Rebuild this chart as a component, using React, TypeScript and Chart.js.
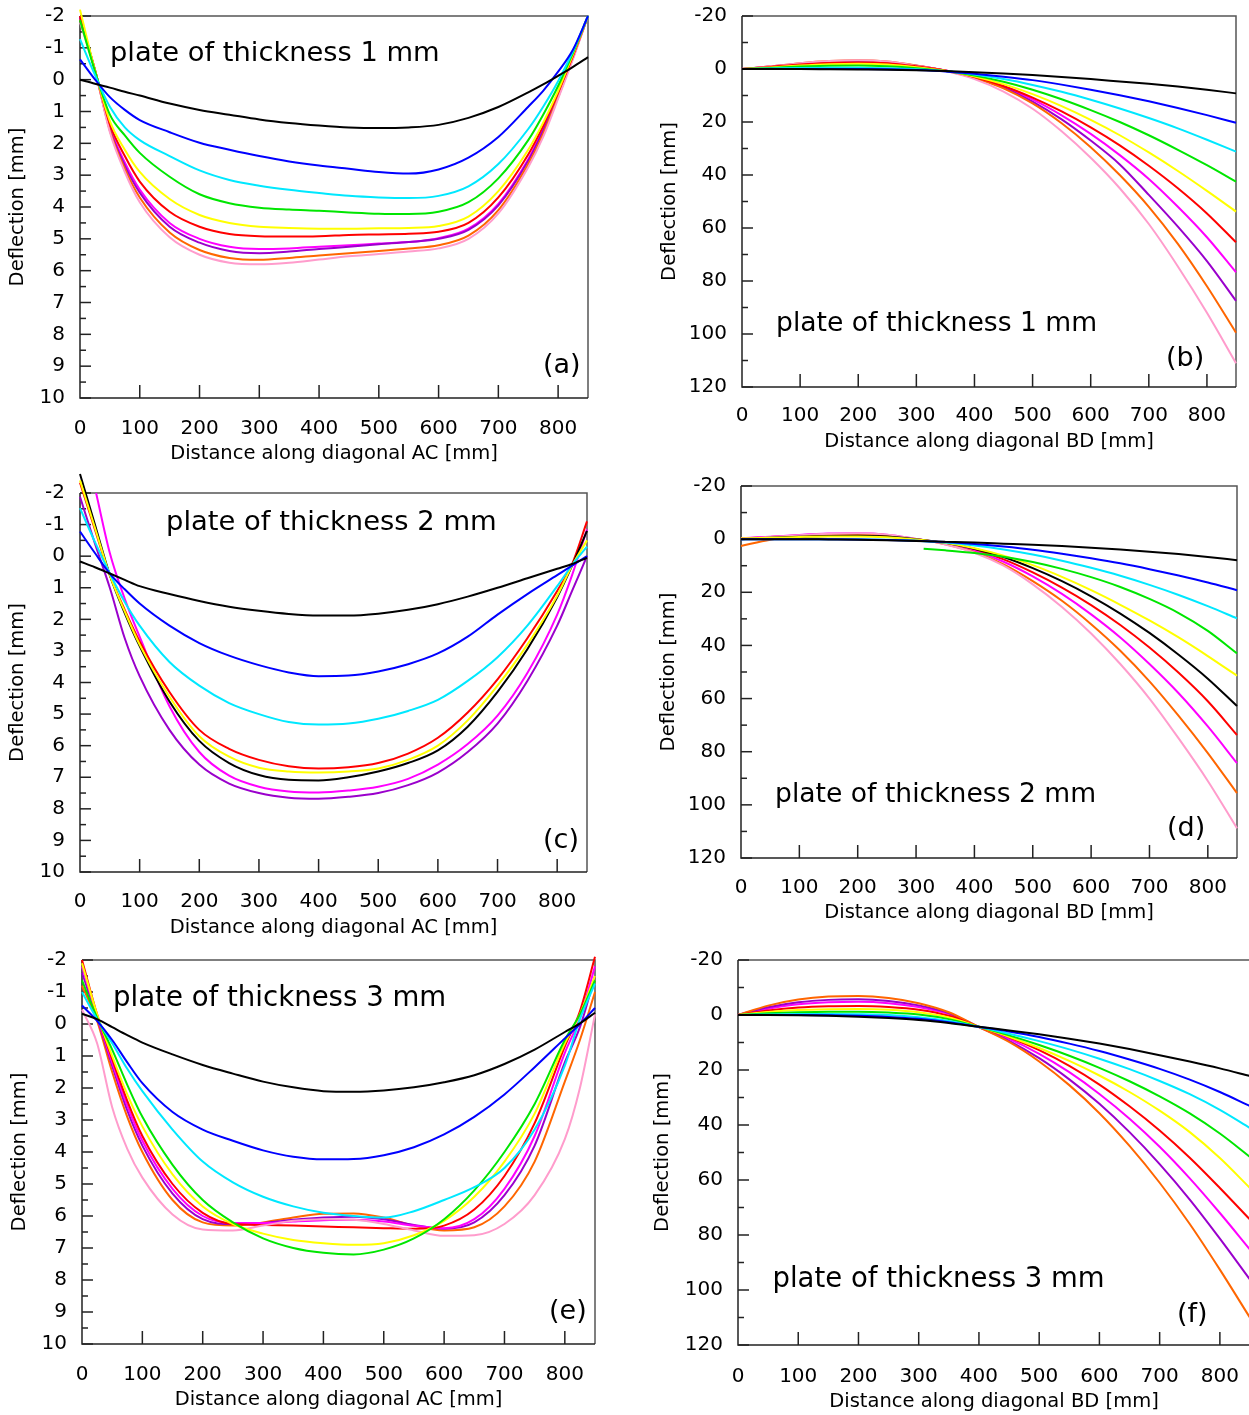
import React, { useEffect, useRef } from "react";
import { Chart, registerables } from "chart.js";
Chart.register(...registerables);

const FONT = "'DejaVu Sans', 'Liberation Sans', sans-serif";
const COL = {
  black: "#000000", blue: "#0000ff", cyan: "#00e8ff", green: "#00e600", yellow: "#ffff00",
  red: "#ff0000", magenta: "#ff00ff", purple: "#9a00cc", orange: "#ff6600", pink: "#ff9ccc",
};

// ---------- tick labels ----------
const xTickValues = [0, 100, 200, 300, 400, 500, 600, 700, 800];
const yTicksSmall = [-2, -1, 0, 1, 2, 3, 4, 5, 6, 7, 8, 9, 10];
const yTicksLarge = [-20, 0, 20, 40, 60, 80, 100, 120];

// ---------- panel (a): plate 1 mm, diagonal AC ----------
const aX = [0, 25, 50, 75, 100, 150, 200, 250, 300, 350, 400, 450, 500, 550, 600, 650, 700, 750, 775, 800, 825, 850];
const aBlack = [0, 0.13, 0.25, 0.38, 0.5, 0.75, 0.95, 1.1, 1.25, 1.36, 1.44, 1.5, 1.52, 1.5, 1.42, 1.2, 0.86, 0.4, 0.15, -0.12, -0.4, -0.71];
const aBlue = [-0.64, -0.01, 0.55, 0.95, 1.27, 1.65, 1.98, 2.2, 2.4, 2.57, 2.7, 2.8, 2.9, 2.95, 2.82, 2.45, 1.8, 0.85, 0.35, -0.25, -0.95, -2.0];
const aCyan = [-1.27, -0.15, 0.85, 1.5, 1.9, 2.4, 2.85, 3.15, 3.33, 3.46, 3.56, 3.65, 3.7, 3.72, 3.65, 3.35, 2.65, 1.55, 0.85, 0.05, -0.9, -2.0];
const aGreen = [-1.87, -0.27, 1.1, 1.75, 2.3, 3.05, 3.6, 3.88, 4.02, 4.08, 4.12, 4.17, 4.21, 4.22, 4.15, 3.85, 3.1, 1.9, 1.1, 0.2, -0.85, -2.0];
const aYellow = [-2.2, -0.3, 1.3, 2.2, 2.9, 3.75, 4.25, 4.5, 4.62, 4.66, 4.68, 4.68, 4.67, 4.66, 4.6, 4.3, 3.5, 2.2, 1.35, 0.35, -0.8, -2.0];
const aRed = [-2.0, -0.3, 1.4, 2.4, 3.2, 4.15, 4.62, 4.85, 4.92, 4.93, 4.92, 4.88, 4.86, 4.84, 4.78, 4.5, 3.7, 2.35, 1.45, 0.4, -0.75, -2.0];
const aMagenta = [-1.95, -0.3, 1.5, 2.6, 3.45, 4.5, 5.0, 5.25, 5.32, 5.3, 5.25, 5.2, 5.15, 5.1, 4.98, 4.68, 3.9, 2.5, 1.55, 0.45, -0.75, -2.0];
const aPurple = [-1.95, -0.3, 1.55, 2.7, 3.55, 4.62, 5.12, 5.38, 5.45, 5.4, 5.32, 5.25, 5.17, 5.1, 5.0, 4.72, 3.95, 2.55, 1.6, 0.5, -0.7, -2.0];
const aOrange = [-1.9, -0.3, 1.6, 2.8, 3.7, 4.8, 5.35, 5.6, 5.66, 5.6, 5.52, 5.45, 5.38, 5.3, 5.2, 4.9, 4.1, 2.65, 1.7, 0.55, -0.7, -2.0];
const aPink = [-1.8, -0.3, 1.65, 2.9, 3.85, 4.95, 5.5, 5.75, 5.8, 5.75, 5.65, 5.55, 5.48, 5.4, 5.3, 5.0, 4.2, 2.75, 1.8, 0.6, -0.65, -2.0];

// ---------- panel (b): plate 1 mm, diagonal BD ----------
const bX = [0, 50, 100, 150, 200, 250, 300, 350, 400, 450, 500, 550, 600, 650, 700, 750, 800, 850];
const bBlack = [0, 0, 0, 0.1, 0.2, 0.3, 0.5, 0.8, 1.2, 1.7, 2.3, 3.0, 3.8, 4.7, 5.6, 6.6, 7.8, 9.2];
const bBlue = [0, 0, 0, 0, 0, 0.1, 0.4, 0.9, 1.8, 2.9, 4.2, 5.9, 7.8, 9.9, 12.2, 14.7, 17.4, 20.3];
const bCyan = [0, -0.2, -0.4, -0.5, -0.5, -0.3, 0.1, 0.8, 2.1, 3.8, 6.0, 8.6, 11.6, 14.9, 18.5, 22.4, 26.7, 31.2];
const bGreen = [0, -0.4, -0.9, -1.2, -1.3, -1.0, -0.3, 0.8, 2.5, 4.8, 7.8, 11.4, 15.5, 20.0, 25.0, 30.5, 36.3, 42.5];
const bYellow = [0, -0.6, -1.3, -1.8, -2.0, -1.7, -0.7, 0.7, 2.8, 5.7, 9.5, 14.0, 19.2, 25.0, 31.5, 38.5, 46.0, 53.8];
const bRed = [0, -0.8, -1.7, -2.3, -2.5, -2.2, -1.0, 0.6, 3.0, 6.4, 10.8, 16.0, 22.0, 28.8, 36.5, 45.0, 54.5, 65.4];
const bMagenta = [0, -1.0, -2.0, -2.7, -3.0, -2.6, -1.2, 0.6, 3.1, 6.7, 11.5, 17.5, 24.5, 32.5, 41.5, 52.0, 63.5, 76.7];
const bPurple = [0, -0.9, -1.9, -2.6, -2.9, -2.5, -1.2, 0.6, 3.2, 7.0, 12.3, 19.0, 27.0, 36.0, 47.5, 59.5, 72.5, 87.5];
const bOrange = [0, -1.0, -2.2, -3.0, -3.3, -2.8, -1.3, 0.7, 3.4, 7.3, 13.0, 20.5, 29.5, 40.0, 52.0, 66.0, 82.0, 99.5];
const bPink = [0, -1.0, -2.2, -3.0, -3.3, -2.8, -1.2, 0.8, 3.8, 8.5, 15.0, 23.5, 33.5, 45.0, 58.5, 74.5, 92.0, 111.0];

// ---------- panel (c): plate 2 mm, diagonal AC ----------
const cX = [0, 25, 50, 75, 100, 150, 200, 250, 300, 350, 400, 450, 500, 550, 600, 650, 700, 750, 800, 825, 850];
const cBlack1 = [0.17, 0.35, 0.55, 0.75, 0.95, 1.2, 1.42, 1.6, 1.73, 1.83, 1.88, 1.88, 1.82, 1.7, 1.52, 1.28, 1.0, 0.7, 0.4, 0.25, 0.05];
const cBlue = [-0.78, -0.1, 0.55, 1.05, 1.5, 2.2, 2.75, 3.15, 3.45, 3.68, 3.8, 3.78, 3.65, 3.42, 3.08, 2.55, 1.85, 1.2, 0.6, 0.3, 0.0];
const cCyan = [-1.52, -0.45, 0.55, 1.45, 2.2, 3.35, 4.1, 4.65, 5.0, 5.25, 5.33, 5.3, 5.15, 4.9, 4.55, 3.95, 3.2, 2.2, 0.95, 0.28, -0.3];
const cRed = [-2.33, -0.85, 0.6, 1.7, 2.7, 4.3, 5.5, 6.1, 6.45, 6.65, 6.72, 6.68, 6.55, 6.25, 5.75, 4.95, 3.9, 2.6, 1.1, 0.25, -1.1];
const cYellow = [-2.4, -0.9, 0.6, 1.75, 2.8, 4.45, 5.7, 6.35, 6.7, 6.82, 6.85, 6.82, 6.72, 6.45, 6.0, 5.2, 4.1, 2.8, 1.25, 0.3, -0.5];
const cBlack2 = [-2.6, -1.0, 0.6, 1.8, 2.85, 4.6, 5.85, 6.55, 6.93, 7.08, 7.1, 7.0, 6.82, 6.55, 6.15, 5.4, 4.3, 2.95, 1.3, 0.3, -0.8];
const cMagentaX = [27, 50, 75, 100, 150, 200, 250, 300, 350, 400, 450, 500, 550, 600, 650, 700, 750, 800, 825, 850];
const cMagenta = [-2.0, -0.1, 1.35, 2.55, 4.75, 6.2, 6.95, 7.3, 7.45, 7.48, 7.42, 7.3, 7.05, 6.6, 5.95, 5.05, 3.7, 1.85, 0.6, -0.85];
const cPurple = [-1.88, -0.4, 1.0, 2.6, 3.8, 5.5, 6.6, 7.2, 7.5, 7.65, 7.68, 7.62, 7.5, 7.25, 6.85, 6.2, 5.3, 3.95, 2.2, 1.1, 0.0];

// ---------- panel (d): plate 2 mm, diagonal BD ----------
const dX = [0, 50, 100, 150, 200, 250, 300, 350, 400, 450, 500, 550, 600, 650, 700, 750, 800, 850];
const dBlack1 = [0, 0, 0, 0.1, 0.2, 0.4, 0.7, 1.0, 1.3, 1.7, 2.1, 2.6, 3.2, 3.9, 4.7, 5.6, 6.7, 7.9];
const dBlue = [0, 0, 0, 0, 0.1, 0.3, 0.6, 1.1, 1.8, 2.8, 4.0, 5.5, 7.2, 9.1, 11.3, 13.7, 16.3, 19.2];
const dCyan = [0, 0, 0, 0, 0, 0.2, 0.6, 1.3, 2.4, 3.9, 5.8, 8.1, 10.8, 13.8, 17.2, 21.0, 25.2, 29.8];
const dGreenX = [313, 350, 400, 450, 500, 550, 600, 650, 700, 750, 800, 850];
const dGreen = [3.6, 4.2, 5.2, 6.6, 8.6, 11.2, 14.3, 18.0, 22.5, 27.8, 34.5, 43.0];
const dYellow = [-0.3, -0.5, -0.8, -1.0, -1.0, -0.7, 0.1, 1.4, 3.4, 6.2, 9.8, 14.2, 19.2, 24.7, 30.6, 37.0, 44.0, 51.4];
const dBlack2 = [0, -0.5, -0.9, -1.2, -1.3, -1.0, 0.0, 1.4, 3.6, 6.7, 10.9, 15.8, 21.5, 28.0, 35.3, 43.5, 52.5, 62.8];
const dRed = [-0.3, -0.8, -1.4, -1.8, -1.9, -1.4, 0.0, 1.6, 4.0, 7.6, 12.5, 18.2, 24.8, 32.3, 40.8, 50.3, 61.0, 73.7];
const dMagenta = [-0.3, -0.9, -1.6, -2.1, -2.2, -1.7, -0.1, 1.7, 4.4, 8.5, 14.0, 20.6, 28.3, 37.0, 47.0, 58.0, 70.5, 84.3];
const dOrange = [2.6, 0.2, -0.9, -1.7, -1.9, -1.5, 0.0, 1.9, 4.9, 9.5, 15.8, 23.2, 32.0, 42.0, 53.5, 66.5, 80.5, 95.6];
const dPink = [0, -0.8, -1.5, -2.0, -2.2, -1.7, -0.1, 2.0, 5.1, 10.0, 17.0, 25.5, 35.5, 47.0, 60.0, 75.0, 91.0, 108.8];

// ---------- panel (e): plate 3 mm, diagonal AC ----------
const eX = [0, 25, 50, 75, 100, 150, 200, 250, 300, 350, 400, 450, 500, 550, 600, 650, 700, 750, 800, 825, 850];
const eBlack = [-0.32, -0.15, 0.1, 0.35, 0.58, 0.95, 1.28, 1.55, 1.8, 1.98, 2.1, 2.12, 2.08, 1.98, 1.82, 1.6, 1.25, 0.8, 0.25, -0.02, -0.35];
const eBlue = [-0.58, -0.1, 0.5, 1.2, 1.85, 2.75, 3.3, 3.65, 3.95, 4.15, 4.23, 4.22, 4.1, 3.85, 3.45, 2.9, 2.2, 1.35, 0.45, 0.0, -0.5];
const eCyan = [-1.0, -0.15, 0.6, 1.4, 2.1, 3.3, 4.3, 4.95, 5.4, 5.7, 5.9, 6.0, 6.05, 5.85, 5.5, 5.1, 4.5, 3.3, 1.3, -0.15, -1.26];
const eGreen = [-1.36, -0.2, 0.8, 1.9, 2.9, 4.4, 5.5, 6.2, 6.7, 7.0, 7.15, 7.2, 7.05, 6.7, 6.1, 5.2, 4.0, 2.5, 0.5, -0.3, -1.36];
const eYellow = [-1.9, -0.3, 1.0, 2.2, 3.2, 4.7, 5.7, 6.25, 6.55, 6.75, 6.85, 6.9, 6.85, 6.6, 6.15, 5.4, 4.3, 2.8, 0.6, -0.3, -1.5];
const eRed = [-2.0, -0.3, 1.1, 2.4, 3.5, 5.0, 5.9, 6.25, 6.28, 6.3, 6.33, 6.35, 6.38, 6.4, 6.3, 5.8, 4.75, 3.1, 0.7, -0.4, -2.1];
const eMagenta = [-1.8, -0.25, 1.2, 2.55, 3.65, 5.15, 6.0, 6.22, 6.22, 6.17, 6.13, 6.12, 6.17, 6.3, 6.38, 6.1, 5.15, 3.5, 0.9, -0.2, -1.8];
const ePurple = [-1.6, -0.2, 1.3, 2.7, 3.8, 5.3, 6.1, 6.25, 6.22, 6.12, 6.05, 6.02, 6.1, 6.28, 6.4, 6.2, 5.35, 3.8, 1.2, 0.1, -1.5];
const eOrange = [-1.2, -0.1, 1.5, 2.9, 4.0, 5.5, 6.2, 6.3, 6.2, 6.05, 5.93, 5.92, 6.05, 6.3, 6.45, 6.35, 5.7, 4.3, 1.8, 0.5, -1.0];
const ePink = [-0.45, 0.6, 2.6, 3.9, 4.8, 5.95, 6.42, 6.45, 6.3, 6.15, 6.1, 6.12, 6.25, 6.45, 6.62, 6.6, 6.25, 5.35, 3.6, 2.0, -0.3];

// ---------- panel (f): plate 3 mm, diagonal BD ----------
const fX = [0, 50, 100, 150, 200, 250, 300, 350, 400, 450, 500, 550, 600, 650, 700, 750, 800, 850];
const fBlack = [0, 0, 0.1, 0.3, 0.6, 1.1, 1.8, 2.9, 4.3, 5.6, 7.0, 8.6, 10.4, 12.4, 14.6, 16.9, 19.4, 22.2];
const fBlue = [0, 0, 0, 0.1, 0.3, 0.7, 1.4, 2.6, 4.3, 6.0, 8.0, 10.4, 13.1, 16.2, 19.6, 23.5, 28.0, 33.1];
const fCyan = [0, -0.2, -0.35, -0.4, -0.3, 0, 0.8, 2.2, 4.4, 6.8, 9.5, 12.5, 15.9, 19.7, 24.0, 28.8, 34.5, 41.1];
const fGreen = [0, -0.6, -1.0, -1.2, -1.2, -0.9, -0.2, 1.5, 4.3, 7.4, 10.9, 14.8, 19.2, 24.1, 29.6, 35.8, 43.1, 51.6];
const fYellow = [0, -1.1, -1.8, -2.1, -2.2, -1.9, -1.0, 0.9, 4.3, 7.9, 12.0, 16.7, 22.0, 28.0, 34.8, 42.6, 52.0, 62.9];
const fRed = [0, -1.6, -2.7, -3.2, -3.3, -2.9, -1.9, 0.3, 4.3, 8.1, 12.8, 18.5, 25.3, 33.2, 42.0, 51.9, 62.9, 74.4];
const fMagenta = [0, -2.3, -3.9, -4.6, -4.8, -4.3, -2.9, -0.4, 4.4, 8.7, 14.1, 20.8, 28.7, 37.7, 47.9, 59.4, 72.0, 85.3];
const fPurple = [0, -2.8, -4.6, -5.5, -5.7, -5.1, -3.5, -0.7, 4.4, 9.4, 15.7, 23.4, 32.3, 42.6, 54.2, 67.1, 81.3, 96.2];
const fOrange = [0, -3.4, -5.6, -6.7, -6.9, -6.2, -4.3, -1.0, 4.4, 9.8, 16.9, 25.5, 35.7, 47.6, 61.0, 76.0, 92.6, 110.1];

type S = [number[], number[], string];

const framePlugin = {
  id: "frame",
  beforeDatasetsDraw(chart: any) {
    const o = chart.options.plugins.frame;
    if (!o) return;
    const { ctx, chartArea: a, scales } = chart;
    ctx.save();
    ctx.lineWidth = 1.5;
    ctx.strokeStyle = "#555";
    ctx.beginPath();
    ctx.moveTo(a.left, a.top);
    ctx.lineTo(a.right, a.top);
    ctx.lineTo(a.right, a.bottom);
    ctx.stroke();
    ctx.strokeStyle = "#222";
    ctx.beginPath();
    ctx.moveTo(a.left, a.top);
    ctx.lineTo(a.left, a.bottom);
    ctx.lineTo(a.right, a.bottom);
    ctx.stroke();
    const ys = scales.y;
    const n = Math.round((o.yMax - o.yMin) / o.yMinor);
    for (let i = 0; i <= n; i++) {
      const v = o.yMin + i * o.yMinor;
      const r = v / o.yMajor;
      const major = Math.abs(r - Math.round(r)) < 1e-6;
      const py = ys.getPixelForValue(v);
      ctx.beginPath();
      ctx.moveTo(a.left, py);
      ctx.lineTo(a.left + (major ? 11 : 6), py);
      ctx.stroke();
    }
    const xs = scales.x;
    for (const v of xTickValues) {
      if (v === 0) continue;
      const px = xs.getPixelForValue(v);
      ctx.beginPath();
      ctx.moveTo(px, a.bottom);
      ctx.lineTo(px, a.bottom - 13);
      ctx.stroke();
    }
    ctx.restore();
  },
};

type PanelCfg = {
  plot: { l: number; t: number; r: number; b: number };
  yW: number; pT: number; pR: number; xH: number;
  yMin: number; yMax: number; yTicks: number[]; yMajor: number; yMinor: number;
  xTitle: string; xLabelPad: number; xTitlePad: number; yTitlePad: number; yLabelPad: number;
  series: S[];
  plate: { text: string; left: number; top: number; size: number };
  tag: { text: string; left: number; top: number };
};

const AC = "Distance along diagonal AC [mm]";
const BD = "Distance along diagonal BD [mm]";

const panels: PanelCfg[] = [
  {
    plot: { l: 80, t: 16, r: 588, b: 398 }, yW: 80, pT: 12, pR: 10, xH: 70,
    yMin: -2, yMax: 10, yTicks: yTicksSmall, yMajor: 1, yMinor: 0.5,
    xTitle: AC, xLabelPad: 19, xTitlePad: 2, yTitlePad: 6, yLabelPad: 15,
    series: [[aX, aBlack, COL.black], [aX, aBlue, COL.blue], [aX, aCyan, COL.cyan], [aX, aGreen, COL.green], [aX, aYellow, COL.yellow], [aX, aRed, COL.red], [aX, aPink, COL.pink], [aX, aOrange, COL.orange], [aX, aPurple, COL.purple], [aX, aMagenta, COL.magenta]],
    plate: { text: "plate of thickness 1 mm", left: 110, top: 38, size: 27.3 },
    tag: { text: "(a)", left: 543, top: 350 },
  },
  {
    plot: { l: 742, t: 16, r: 1236, b: 387 }, yW: 90, pT: 12, pR: 10, xH: 70,
    yMin: -20, yMax: 120, yTicks: yTicksLarge, yMajor: 20, yMinor: 10,
    xTitle: BD, xLabelPad: 16.5, xTitlePad: 3, yTitlePad: 6, yLabelPad: 15,
    series: [[bX, bBlack, COL.black], [bX, bBlue, COL.blue], [bX, bCyan, COL.cyan], [bX, bGreen, COL.green], [bX, bYellow, COL.yellow], [bX, bRed, COL.red], [bX, bPink, COL.pink], [bX, bOrange, COL.orange], [bX, bPurple, COL.purple], [bX, bMagenta, COL.magenta]],
    plate: { text: "plate of thickness 1 mm", left: 776, top: 308.5, size: 26.6 },
    tag: { text: "(b)", left: 1166, top: 343 },
  },
  {
    plot: { l: 80, t: 493, r: 587, b: 872 }, yW: 80, pT: 22, pR: 10, xH: 70,
    yMin: -2, yMax: 10, yTicks: yTicksSmall, yMajor: 1, yMinor: 0.5,
    xTitle: AC, xLabelPad: 17.5, xTitlePad: 2, yTitlePad: 6, yLabelPad: 15,
    series: [[cX, cBlack1, COL.black], [cX, cBlue, COL.blue], [cX, cCyan, COL.cyan], [cX, cYellow, COL.yellow], [cX, cBlack2, COL.black], [cX, cRed, COL.red], [cMagentaX, cMagenta, COL.magenta], [cX, cPurple, COL.purple]],
    plate: { text: "plate of thickness 2 mm", left: 166, top: 507, size: 27.4 },
    tag: { text: "(c)", left: 543, top: 825 },
  },
  {
    plot: { l: 741, t: 486, r: 1237, b: 858 }, yW: 90, pT: 12, pR: 10, xH: 70,
    yMin: -20, yMax: 120, yTicks: yTicksLarge, yMajor: 20, yMinor: 10,
    xTitle: BD, xLabelPad: 17.5, xTitlePad: 3, yTitlePad: 6, yLabelPad: 15,
    series: [[dX, dBlack1, COL.black], [dX, dBlue, COL.blue], [dX, dCyan, COL.cyan], [dGreenX, dGreen, COL.green], [dX, dYellow, COL.yellow], [dX, dBlack2, COL.black], [dX, dPink, COL.pink], [dX, dOrange, COL.orange], [dX, dMagenta, COL.magenta], [dX, dRed, COL.red]],
    plate: { text: "plate of thickness 2 mm", left: 775, top: 779.5, size: 26.6 },
    tag: { text: "(d)", left: 1167, top: 813 },
  },
  {
    plot: { l: 82, t: 960, r: 595, b: 1344 }, yW: 82, pT: 12, pR: 10, xH: 70,
    yMin: -2, yMax: 10, yTicks: yTicksSmall, yMajor: 1, yMinor: 0.5,
    xTitle: AC, xLabelPad: 18.5, xTitlePad: 2, yTitlePad: 8, yLabelPad: 15,
    series: [[eX, eBlack, COL.black], [eX, eBlue, COL.blue], [eX, eCyan, COL.cyan], [eX, eGreen, COL.green], [eX, eYellow, COL.yellow], [eX, ePink, COL.pink], [eX, eRed, COL.red], [eX, eMagenta, COL.magenta], [eX, ePurple, COL.purple], [eX, eOrange, COL.orange]],
    plate: { text: "plate of thickness 3 mm", left: 113, top: 982.5, size: 27.6 },
    tag: { text: "(e)", left: 549, top: 1296 },
  },
  {
    plot: { l: 738, t: 960, r: 1250, b: 1345 }, yW: 90, pT: 12, pR: 10, xH: 70,
    yMin: -20, yMax: 120, yTicks: yTicksLarge, yMajor: 20, yMinor: 10,
    xTitle: BD, xLabelPad: 19.5, xTitlePad: 1.5, yTitlePad: 3.5, yLabelPad: 15,
    series: [[fX, fBlack, COL.black], [fX, fBlue, COL.blue], [fX, fCyan, COL.cyan], [fX, fGreen, COL.green], [fX, fYellow, COL.yellow], [fX, fRed, COL.red], [fX, fOrange, COL.orange], [fX, fPurple, COL.purple], [fX, fMagenta, COL.magenta]],
    plate: { text: "plate of thickness 3 mm", left: 772.5, top: 1263.5, size: 27.5 },
    tag: { text: "(f)", left: 1177, top: 1299 },
  },
];

function zeroPad(s: any) {
  s.paddingTop = 0;
  s.paddingBottom = 0;
  s.paddingLeft = 0;
  s.paddingRight = 0;
}

function Panel({ cfg }: { cfg: PanelCfg }) {
  const ref = useRef<HTMLCanvasElement>(null);
  const { plot, yW, pT, pR, xH } = cfg;
  const width = yW + (plot.r - plot.l) + pR;
  const height = pT + (plot.b - plot.t) + xH;
  const left = plot.l - yW;
  const top = plot.t - pT;

  useEffect(() => {
    const tickFont = { family: FONT, size: 20 };
    const titleFont = { family: FONT, size: 19.5 };
    const chart = new Chart(ref.current as HTMLCanvasElement, {
      type: "line",
      data: {
        datasets: cfg.series.map(([xs, ys, color]) => ({
          data: xs.map((x, i) => ({ x, y: ys[i] })),
          borderColor: color,
          backgroundColor: color,
          borderWidth: 2,
          pointRadius: 0,
          fill: false,
          cubicInterpolationMode: "monotone" as const,
          clip: false as any,
        })),
      },
      options: {
        animation: false,
        responsive: false,
        maintainAspectRatio: false,
        devicePixelRatio: 1,
        events: [],
        layout: { padding: { top: pT, right: pR, left: 0, bottom: 0 } },
        plugins: {
          legend: { display: false },
          tooltip: { enabled: false },
          frame: { yMin: cfg.yMin, yMax: cfg.yMax, yMajor: cfg.yMajor, yMinor: cfg.yMinor },
        } as any,
        scales: {
          x: {
            type: "linear",
            min: 0,
            max: 850,
            grid: { display: false, drawTicks: false },
            border: { display: false },
            afterBuildTicks: (s: any) => { s.ticks = xTickValues.map((v) => ({ value: v })); },
            afterFit: (s: any) => { s.height = xH; zeroPad(s); },
            ticks: { font: tickFont, color: "#000", padding: cfg.xLabelPad, maxRotation: 0, autoSkip: false, callback: (v: any) => String(v) },
            title: { display: true, text: cfg.xTitle, font: titleFont, color: "#000", padding: { top: 0, bottom: cfg.xTitlePad } },
          },
          y: {
            type: "linear",
            reverse: true,
            min: cfg.yMin,
            max: cfg.yMax,
            grid: { display: false, drawTicks: false },
            border: { display: false },
            afterBuildTicks: (s: any) => { s.ticks = cfg.yTicks.map((v) => ({ value: v })); },
            afterFit: (s: any) => { s.width = yW; zeroPad(s); },
            ticks: { font: tickFont, color: "#000", padding: cfg.yLabelPad, autoSkip: false, callback: (v: any) => String(v) },
            title: { display: true, text: "Deflection [mm]", font: titleFont, color: "#000", padding: { top: cfg.yTitlePad, bottom: 0 } },
          },
        },
      },
      plugins: [framePlugin],
    } as any);
    return () => chart.destroy();
  }, []);

  const textStyle = (l: number, t: number, size: number): React.CSSProperties => ({
    position: "absolute", left: l, top: t, fontFamily: FONT, fontSize: size, lineHeight: 1,
    whiteSpace: "nowrap", color: "#000",
  });

  return (
    <>
      <canvas ref={ref} width={width} height={height} style={{ position: "absolute", left, top, width, height, display: "block" }} />
      <div style={textStyle(cfg.plate.left, cfg.plate.top, cfg.plate.size)}>{cfg.plate.text}</div>
      <div style={textStyle(cfg.tag.left, cfg.tag.top, 27)}>{cfg.tag.text}</div>
    </>
  );
}

export default function App() {
  return (
    <div style={{ position: "absolute", left: 0, top: 0, width: 1249, height: 1415, overflow: "hidden", background: "#fff" }}>
      {panels.map((p, i) => (
        <Panel key={i} cfg={p} />
      ))}
    </div>
  );
}
